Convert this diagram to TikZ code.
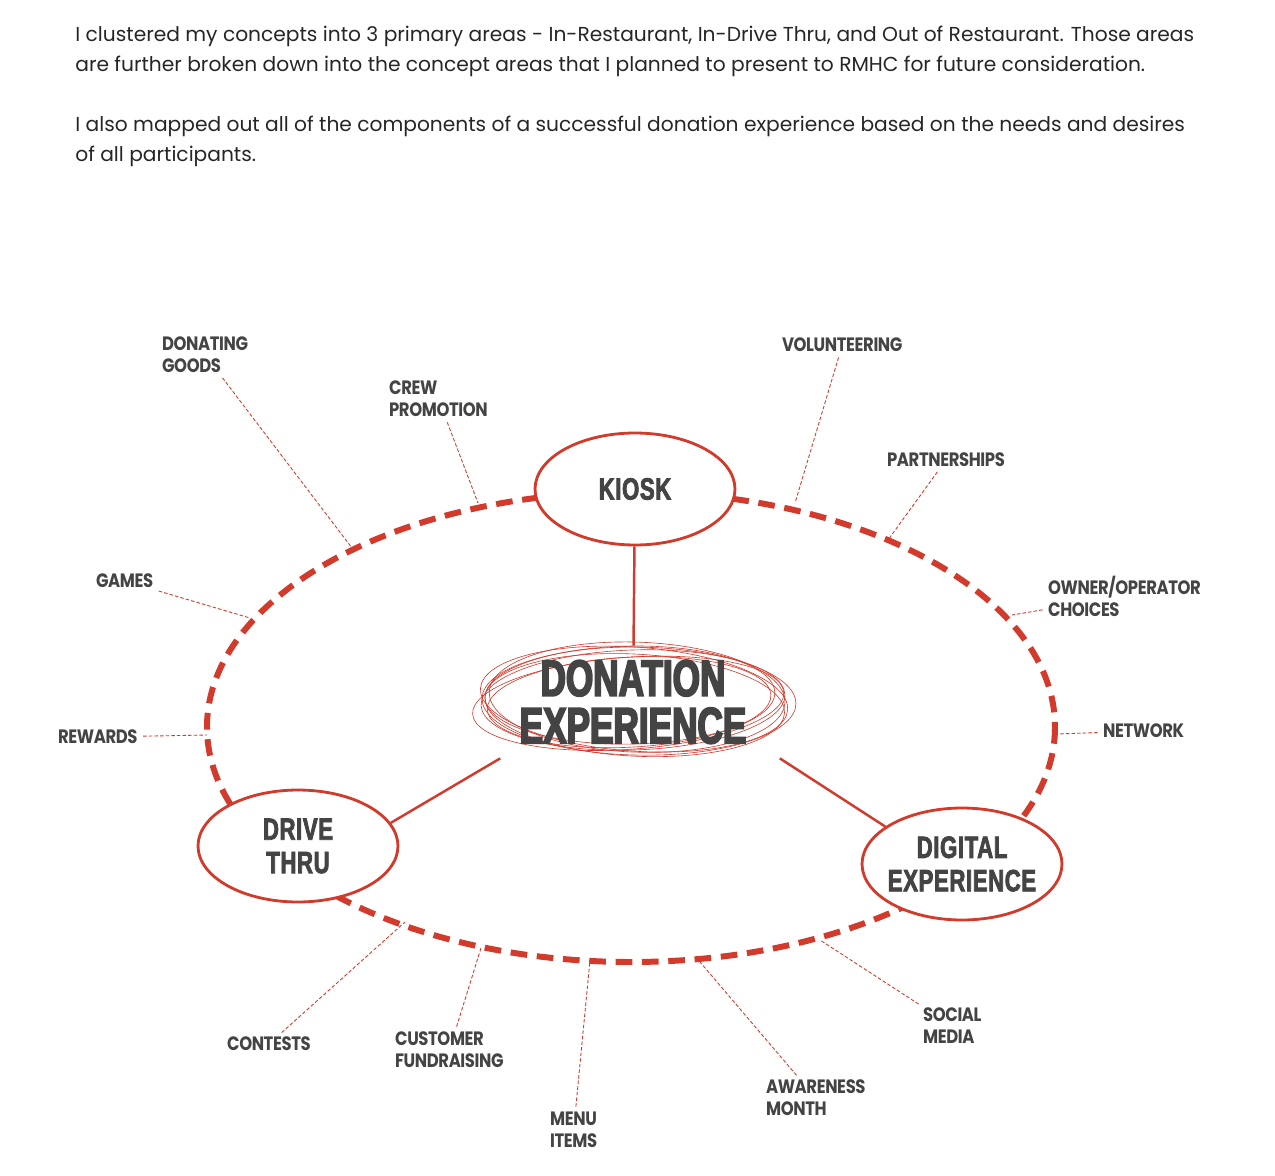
\documentclass[tikz,border=0pt]{standalone}
\usepackage{fontspec}
\setmainfont{Poppins}
\newfontfamily\labelfont{Poppins}[FakeStretch=0.85, LetterSpace=-2.0]
\newfontfamily\bigfont{Liberation Sans Bold}[FakeStretch=0.69, FakeBold=3.5]
\newfontfamily\areafont{Liberation Sans Bold}[FakeStretch=0.72, LetterSpace=2, FakeBold=2.5]
\usetikzlibrary{shapes.geometric,calc}
\definecolor{ringred}{HTML}{D23A2C}
\definecolor{inkgray}{HTML}{444444}
\begin{document}
\begin{tikzpicture}[x=0.02cm, y=-0.02cm,
    area/.style={ellipse, draw=ringred, line width=1.6pt, fill=white, minimum width=4cm, minimum height=2.24cm, inner xsep=-10pt, inner ysep=-3pt, align=center, text=inkgray, font=\areafont\fontsize{17.5}{19}\selectfont},
    hub/.style={rectangle, minimum width=6cm, minimum height=2.24cm, inner sep=0pt, align=center, text=inkgray, font=\bigfont\fontsize{29}{27}\selectfont},
    topic/.style={anchor=west, align=left, text=inkgray, inner sep=1pt, font=\labelfont\bfseries\fontsize{11}{12.5}\selectfont},
    ring/.style={draw=ringred, line width=3.4pt, dash pattern=on 9.5pt off 5.5pt},
    link/.style={draw=ringred, line width=1.4pt},
    leader/.style={draw=ringred, line width=0.5pt, dash pattern=on 2pt off 1.2pt, shorten <=2pt},
    scribble/.style={draw=ringred, line width=0.35pt}
    ]
  \fill[white] (0,0) rectangle (1275,1176);
  \useasboundingbox (0,0) rectangle (1275,1176);

  % intro text
  \node[anchor=north west, align=left, inner sep=0pt, text=black!85, font=\fontsize{11.5}{17}\selectfont] (intro) at (75,26)
    {I clustered my concepts into 3 primary areas - In-Restaurant, In-Drive Thru, and Out of Restaurant. Those areas\\
     are further broken down into the concept areas that I planned to present to RMHC for future consideration.\\[17pt]
     I also mapped out all of the components of a successful donation experience based on the needs and desires\\
     of all participants.};

  % outer dashed ring
  \draw[ring] (631,727) ellipse [x radius=424, y radius=235];

  % scribbled hub
  \coordinate (mid) at (633,700);
  \foreach \dx/\dy/\rx/\ry/\rot in {0/0/152/50/2, 4/-3/148/55/-2, -5/3/156/46/4, 2/5/150/51/-3, -3/-5/145/49/1, 6/1/157/54/-1, -4/2/142/45/3, 1/-1/154/52/-4}
    \draw[scribble, rotate around={\rot:(mid)}] ($(mid)+(\dx,\dy)$) ellipse [x radius=\rx, y radius=\ry];
  \node[hub] (centre) at ($(mid)+(0,2)$) {DONATION\\EXPERIENCE};

  % three areas
  \node[area] (kiosk) at (635,489) {KIOSK};
  \node[area] (drive) at (298,846) {DRIVE\\THRU};
  \node[area] (digital) at (962,864) {DIGITAL\\EXPERIENCE};
  \draw[link] (kiosk) -- (centre);
  \draw[link] (drive.14) -- (centre.203);
  \draw[link] (digital.154) -- (centre.339);

  % concept labels
  \node[topic] (donating) at (160,355) {DONATING\\GOODS};
  \node[topic] (crew) at (387,399) {CREW\\PROMOTION};
  \node[topic] (volunteer) at (780,345) {VOLUNTEERING};
  \node[topic] (partner) at (885,460) {PARTNERSHIPS};
  \node[topic] (owner) at (1046,596) {OWNER/OPERATOR\\CHOICES};
  \node[topic] (network) at (1101,731) {NETWORK};
  \node[topic] (games) at (94,581) {GAMES};
  \node[topic] (rewards) at (56,737) {REWARDS};
  \node[topic] (contests) at (225,1044) {CONTESTS};
  \node[topic] (customer) at (393,1050) {CUSTOMER\\FUNDRAISING};
  \node[topic] (menu) at (548,1130) {MENU\\ITEMS};
  \node[topic] (awareness) at (764,1098) {AWARENESS\\MONTH};
  \node[topic] (social) at (921,1026) {SOCIAL\\MEDIA};

  % points on the ring
  \coordinate (pDonating) at (352,548);
  \coordinate (pCrew) at (478,503);
  \coordinate (pVolunteer) at (795,503);
  \coordinate (pPartner) at (888,540);
  \coordinate (pOwner) at (1012,615);
  \coordinate (pNetwork) at (1057,734);
  \coordinate (pGames) at (250,618);
  \coordinate (pRewards) at (207,735);
  \coordinate (pContests) at (405,922);
  \coordinate (pCustomer) at (481,948);
  \coordinate (pMenu) at (590,960);
  \coordinate (pAwareness) at (700,962);
  \coordinate (pSocial) at (820,940);

  \draw[leader] (donating) -- (pDonating);
  \draw[leader] (crew) -- (pCrew);
  \draw[leader] (volunteer) -- (pVolunteer);
  \draw[leader] (partner) -- (pPartner);
  \draw[leader] (owner) -- (pOwner);
  \draw[leader] (network) -- (pNetwork);
  \draw[leader] (games) -- (pGames);
  \draw[leader] (rewards) -- (pRewards);
  \draw[leader] (contests) -- (pContests);
  \draw[leader] (customer) -- (pCustomer);
  \draw[leader] (menu) -- (pMenu);
  \draw[leader] (awareness) -- (pAwareness);
  \draw[leader] (social) -- (pSocial);
\end{tikzpicture}
\end{document}
